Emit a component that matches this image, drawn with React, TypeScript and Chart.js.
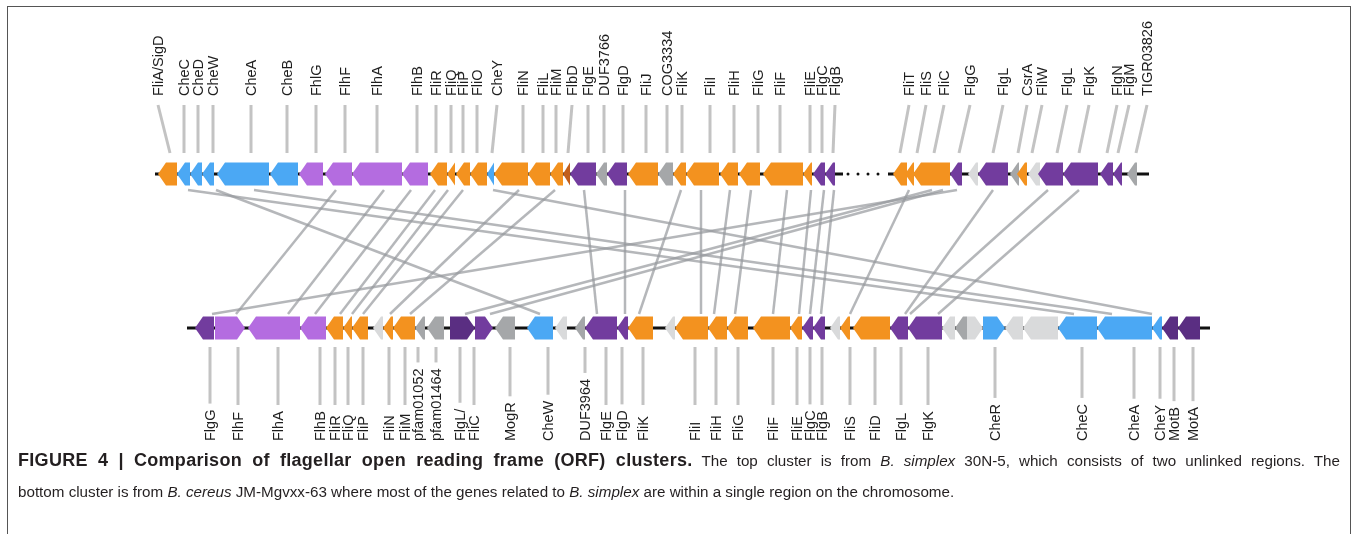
import React, { useEffect, useRef } from "react";
import { Chart, registerables } from "chart.js";

Chart.register(...registerables);

// ---------------- DATA (map positions in map units along the cluster) ----------------
// Top cluster: B. simplex 30N-5 (two unlinked regions)
const topNames = [
  "FliA/SigD", "CheC", "CheD", "CheW", "CheA", "CheB", "FhlG", "FlhF", "FlhA", "FlhB",
  "FliR", "FliQ", "FliP", "FliO", "CheY", "FliN", "FliL", "FliM", "FlbD", "FlgE",
  "DUF3766", "FlgD", "FliJ", "COG3334", "FliK", "FliI", "FliH", "FliG", "FliF", "FliE",
  "FlgC", "FlgB", "FliT", "FliS", "FliC", "FlgG", "", "FlgL", "", "CsrA",
  "FliW", "FlgL", "FlgK", "FlgN", "FlgM", "TIGR03826",
];
const topStart = [
  158, 177, 190, 202, 217, 270, 299, 325, 352, 402,
  430, 447, 456, 470, 487, 494, 528, 550, 563, 570,
  596, 607, 628, 658, 673, 686, 720, 739, 763, 803,
  813, 825, 893, 905, 913, 950, 968, 978, 1010, 1017,
  1028, 1038, 1063, 1100, 1113, 1127,
];
const topEnd = [
  177, 190, 202, 214, 269, 298, 323, 352, 402, 428,
  447, 455, 470, 487, 494, 528, 550, 563, 570, 596,
  607, 627, 658, 673, 686, 719, 738, 760, 803, 812,
  825, 835, 907, 914, 950, 962, 978, 1008, 1019, 1027,
  1040, 1063, 1098, 1113, 1122, 1137,
];
const topStrand = [
  -1, -1, -1, -1, -1, -1, -1, -1, -1, -1,
  -1, -1, -1, -1, -1, -1, -1, -1, -1, -1,
  -1, -1, -1, -1, -1, -1, -1, -1, -1, -1,
  -1, -1, -1, -1, -1, -1, -1, -1, -1, -1,
  -1, -1, -1, -1, -1, -1,
];
const topKind = [
  "fla", "che", "che", "che", "che", "che", "flh", "flh", "flh", "flh",
  "fla", "fla", "fla", "fla", "che", "fla", "fla", "fla", "reg", "flg",
  "hyp", "flg", "fla", "hyp", "fla", "fla", "fla", "fla", "fla", "fla",
  "flg", "flg", "fla", "fla", "fla", "flg", "unk", "flg", "hyp", "fla",
  "unk", "flg", "flg", "flg", "flg", "hyp",
];
// where each name label sits, and where its leader meets the gene
const topLabelAt = [
  158, 184, 198, 213, 251, 287, 316, 345, 377, 417,
  436, 451, 463, 477, 497, 523, 543, 556, 572, 588,
  604, 623, 646, 667, 682, 710, 734, 758, 780, 810,
  822, 835, 909, 926, 944, 970, 0, 1003, 0, 1027,
  1042, 1067, 1089, 1117, 1129, 1147,
];
const topLeaderAt = [
  170, 184, 198, 213, 251, 287, 316, 345, 377, 417,
  436, 451, 463, 477, 492, 523, 543, 556, 568, 588,
  604, 623, 646, 667, 682, 710, 734, 758, 780, 810,
  822, 833, 900, 917, 934, 959, 0, 993, 0, 1018,
  1032, 1057, 1079, 1107, 1118, 1136,
];
const topTrackSegments = [[155, 843], [888, 1149]];
const topGapDots = [848, 858, 868, 878];

// Bottom cluster: B. cereus JM-Mgvxx-63
const botNames = [
  "FlgG", "FlhF", "FlhA", "FlhB", "FliR", "FliQ", "FliP", "", "FliN", "FliM",
  "pfam01052", "pfam01464", "FlgL/", "FliC", "MogR", "CheW", "", "DUF3964", "FlgE", "FlgD",
  "FliK", "", "FliI", "FliH", "FliG", "FliF", "FliE", "FlgC", "FlgB", "",
  "FliS", "FliD", "FlgL", "FlgK", "", "", "", "CheR", "", "",
  "CheC", "CheA", "CheY", "MotB", "MotA",
];
const botStart = [
  195, 215, 248, 300, 326, 343, 352, 373, 383, 393,
  415, 427, 450, 475, 495, 527, 555, 575, 585, 617,
  628, 665, 675, 708, 727, 753, 790, 802, 813, 830,
  840, 853, 890, 908, 942, 955, 967, 983, 1005, 1023,
  1058, 1097, 1152, 1162, 1178,
];
const botEnd = [
  214, 245, 300, 326, 343, 352, 368, 383, 393, 415,
  425, 444, 475, 493, 515, 553, 567, 585, 617, 628,
  653, 675, 708, 727, 748, 790, 802, 813, 825, 840,
  850, 890, 908, 942, 955, 967, 983, 1005, 1023, 1058,
  1097, 1152, 1162, 1178, 1200,
];
const botStrand = [
  -1, 1, -1, -1, -1, -1, -1, -1, -1, -1,
  -1, -1, 1, 1, -1, -1, -1, -1, -1, -1,
  -1, -1, -1, -1, -1, -1, -1, -1, -1, -1,
  -1, -1, -1, -1, -1, -1, 1, 1, -1, -1,
  -1, -1, -1, -1, -1,
];
const botKind = [
  "flg", "flh", "flh", "flh", "fla", "fla", "fla", "unk", "fla", "fla",
  "hyp", "hyp", "mot", "flg", "hyp", "che", "unk", "hyp", "flg", "flg",
  "fla", "unk", "fla", "fla", "fla", "fla", "fla", "flg", "flg", "unk",
  "fla", "fla", "flg", "flg", "unk", "hyp", "unk", "che", "unk", "unk",
  "che", "che", "che", "mot", "mot",
];
const botLabelAt = [
  210, 238, 278, 320, 335, 348, 363, 0, 389, 405,
  418, 436, 460, 474, 510, 548, 0, 585, 606, 622,
  643, 0, 695, 716, 738, 773, 797, 810, 822, 0,
  850, 875, 901, 928, 0, 0, 0, 995, 0, 0,
  1082, 1134, 1160, 1174, 1193,
];
const botTrackSegments = [[187, 1210]];

// Homology links: position on the top cluster -> position on the bottom cluster
const linkTop = [
  188, 216, 254, 493, 336, 384, 411, 435, 448, 463,
  519, 555, 584, 625, 681, 701, 730, 751, 787, 811,
  824, 834, 909, 932, 943, 957, 993, 1048, 1079,
];
const linkBottom = [
  1074, 540, 1112, 1152, 236, 288, 315, 340, 352, 363,
  390, 410, 597, 625, 639, 701, 714, 735, 773, 799,
  810, 821, 850, 465, 490, 212, 905, 910, 938,
];

// ---------------- STYLE ----------------
const KIND_COLORS: Record<string, string> = {
  fla: "#f3921f",
  che: "#4ba8f4",
  flh: "#b46ce0",
  flg: "#723c9e",
  mot: "#5a2e82",
  hyp: "#a5a7a9",
  unk: "#d9dadb",
  reg: "#c25f1b",
};
const FONT = '"Liberation Sans", Arial, Helvetica, sans-serif';
const CANVAS_W = 1342;
const CANVAS_H = 440;
const TOP_PX = 167; // canvas px of top track
const BOT_PX = 321; // canvas px of bottom track

function drawGene(ctx: CanvasRenderingContext2D, x1: number, x2: number, y: number, strand: number, color: string) {
  const h = 23;
  const w = x2 - x1;
  const tip = Math.min(8, w);
  ctx.beginPath();
  if (strand < 0) {
    ctx.moveTo(x1, y);
    ctx.lineTo(x1 + tip, y - h / 2);
    ctx.lineTo(x2, y - h / 2);
    ctx.lineTo(x2, y + h / 2);
    ctx.lineTo(x1 + tip, y + h / 2);
  } else {
    ctx.moveTo(x2, y);
    ctx.lineTo(x2 - tip, y - h / 2);
    ctx.lineTo(x1, y - h / 2);
    ctx.lineTo(x1, y + h / 2);
    ctx.lineTo(x2 - tip, y + h / 2);
  }
  ctx.closePath();
  ctx.fillStyle = color;
  ctx.fill();
}

const orfPlugin = {
  id: "orfMap",
  beforeDatasetsDraw(chart: any) {
    const ctx: CanvasRenderingContext2D = chart.ctx;
    const xs = chart.scales.x;
    const ys = chart.scales.y;
    const yt = ys.getPixelForValue(1);
    const yb = ys.getPixelForValue(0);
    ctx.save();
    // homology links
    ctx.strokeStyle = "rgba(150,152,156,0.7)";
    ctx.lineWidth = 2.5;
    ctx.lineCap = "butt";
    for (let i = 0; i < linkTop.length; i++) {
      ctx.beginPath();
      ctx.moveTo(xs.getPixelForValue(linkTop[i]), yt + 16);
      ctx.lineTo(xs.getPixelForValue(linkBottom[i]), yb - 14);
      ctx.stroke();
    }
    ctx.restore();
  },
  afterDatasetsDraw(chart: any) {
    const ctx: CanvasRenderingContext2D = chart.ctx;
    const xs = chart.scales.x;
    const ys = chart.scales.y;
    const yt = ys.getPixelForValue(1);
    const yb = ys.getPixelForValue(0);
    const px = (v: number) => xs.getPixelForValue(v);
    ctx.save();

    // track backbones
    ctx.strokeStyle = "#111";
    ctx.lineWidth = 3;
    for (const [a, b] of topTrackSegments) {
      ctx.beginPath();
      ctx.moveTo(px(a), yt);
      ctx.lineTo(px(b), yt);
      ctx.stroke();
    }
    for (const [a, b] of botTrackSegments) {
      ctx.beginPath();
      ctx.moveTo(px(a), yb);
      ctx.lineTo(px(b), yb);
      ctx.stroke();
    }
    ctx.fillStyle = "#111";
    for (const d of topGapDots) {
      ctx.beginPath();
      ctx.arc(px(d), yt, 1.5, 0, Math.PI * 2);
      ctx.fill();
    }

    // genes
    for (let i = 0; i < topNames.length; i++) {
      drawGene(ctx, px(topStart[i]), px(topEnd[i]), yt, topStrand[i], KIND_COLORS[topKind[i]]);
    }
    for (let i = 0; i < botNames.length; i++) {
      drawGene(ctx, px(botStart[i]), px(botEnd[i]), yb, botStrand[i], KIND_COLORS[botKind[i]]);
    }

    // leaders
    ctx.strokeStyle = "#c3c3c3";
    ctx.lineWidth = 3;
    ctx.font = `14.5px ${FONT}`;
    for (let i = 0; i < topNames.length; i++) {
      if (!topNames[i]) continue;
      ctx.beginPath();
      ctx.moveTo(px(topLabelAt[i]), yt - 69);
      ctx.lineTo(px(topLeaderAt[i]), yt - 21);
      ctx.stroke();
    }
    for (let i = 0; i < botNames.length; i++) {
      if (!botNames[i]) continue;
      const tw = ctx.measureText(botNames[i]).width;
      const end = Math.min(yb + 77, yb + 113 - tw - 6);
      ctx.beginPath();
      ctx.moveTo(px(botLabelAt[i]), yb + 19);
      ctx.lineTo(px(botLabelAt[i]), end);
      ctx.stroke();
    }

    // labels
    ctx.fillStyle = "#1e1e1e";
    ctx.textAlign = "left";
    ctx.textBaseline = "middle";
    const label = (t: string, x: number, y: number) => {
      ctx.save();
      ctx.translate(x, y);
      ctx.rotate(-Math.PI / 2);
      ctx.fillText(t, 0, 0);
      ctx.restore();
    };
    for (let i = 0; i < topNames.length; i++) {
      if (topNames[i]) label(topNames[i], px(topLabelAt[i]) + 0.5, yt - 78);
    }
    for (let i = 0; i < botNames.length; i++) {
      if (botNames[i]) label(botNames[i], px(botLabelAt[i]) + 0.5, yb + 113);
    }
    ctx.restore();
  },
};

function OrfChart() {
  const ref = useRef<HTMLCanvasElement | null>(null);
  useEffect(() => {
    if (!ref.current) return;
    const unit = BOT_PX - TOP_PX;
    const yMax = BOT_PX / unit;
    const yMin = yMax - CANVAS_H / unit;
    const chart = new Chart(ref.current, {
      type: "scatter",
      data: { datasets: [{ data: [], showLine: false }] },
      options: {
        animation: false,
        responsive: false,
        maintainAspectRatio: false,
        layout: { padding: 0 },
        plugins: { legend: { display: false }, tooltip: { enabled: false } },
        scales: {
          x: { type: "linear", min: 8, max: 8 + CANVAS_W, display: false },
          y: { type: "linear", min: yMin, max: yMax, display: false },
        },
      },
      plugins: [orfPlugin],
    });
    return () => chart.destroy();
  }, []);
  return <canvas ref={ref} width={CANVAS_W} height={CANVAS_H} style={{ position: "absolute", left: 0, top: 0, width: CANVAS_W, height: CANVAS_H }} />;
}

export default function App() {
  return (
    <div
      style={{
        position: "absolute",
        left: 7,
        top: 6,
        width: CANVAS_W,
        height: 560,
        borderLeft: "1px solid #555",
        borderTop: "1px solid #555",
        borderRight: "1px solid #555",
        background: "#fff",
        fontFamily: FONT,
      }}
    >
      <OrfChart />
      <div
        style={{
          position: "absolute",
          left: 10,
          top: 438,
          width: 1322,
          fontSize: 15.2,
          lineHeight: "31px",
          color: "#231f20",
        }}
      >
        <div style={{ textAlign: "justify", textAlignLast: "justify", whiteSpace: "normal" }}>
          <b style={{ fontSize: 18, letterSpacing: 0.3 }}>FIGURE 4 | Comparison of flagellar open reading frame (ORF) clusters.</b> The top cluster is from <i>B. simplex</i> 30N-5, which consists of two unlinked regions. The
        </div>
        <div style={{ whiteSpace: "nowrap" }}>
          bottom cluster is from <i>B. cereus</i> JM-Mgvxx-63 where most of the genes related to <i>B. simplex</i> are within a single region on the chromosome.
        </div>
      </div>
    </div>
  );
}
